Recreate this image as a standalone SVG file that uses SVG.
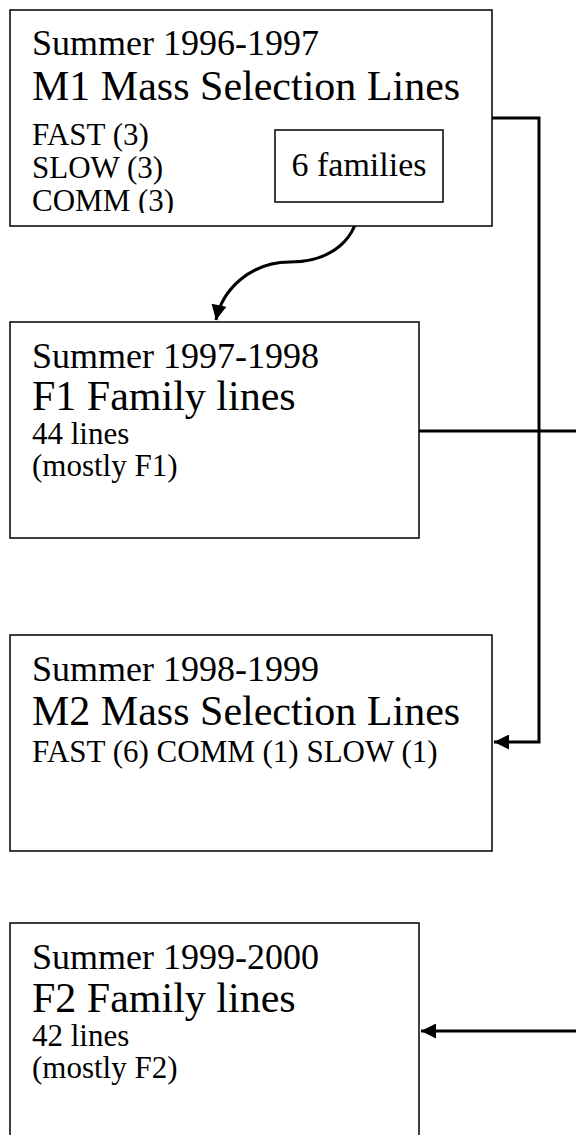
<svg xmlns="http://www.w3.org/2000/svg" width="576" height="1135" viewBox="0 0 576 1135">
<style>
.box{fill:#fff;stroke:#000;stroke-width:1.5}
.t{font-family:"Liberation Serif","Times New Roman",serif;fill:#000}
.s1{font-size:36px}
.s2{font-size:42px}
.s3{font-size:31px}
.s4{font-size:34px}
.c{fill:none;stroke:#000;stroke-width:3}
</style>
<defs>
<marker id="ah" viewBox="0 0 10 10" refX="10" refY="5" markerWidth="5.5" markerHeight="5" markerUnits="strokeWidth" orient="auto">
<path d="M0,0 L10,5 L0,10 z" fill="#000"/>
</marker>
<clipPath id="clip1"><rect x="10" y="10" width="482" height="203"/></clipPath>
</defs>
<rect width="576" height="1135" fill="#fff"/>
<g id="connectors">
<path class="c" d="M492,118 H539 V742 H494" marker-end="url(#ah)"/>
<path class="c" d="M419,431 H576"/>
<path class="c" d="M576,1031 H421" marker-end="url(#ah)"/>
<path class="c" d="M359,202 C359,240 330,262 290,262 C250,262 222,290 216,320" marker-end="url(#ah)"/>
</g>
<g id="node1">
<rect class="box" x="10" y="10" width="482" height="216"/>
<g clip-path="url(#clip1)">
<text class="t s1" x="32" y="55">Summer 1996-1997</text>
<text class="t s2" x="32" y="100">M1 Mass Selection Lines</text>
<text class="t s3" x="32" y="145">FAST (3)</text>
<text class="t s3" x="32" y="178">SLOW (3)</text>
<text class="t s3" x="32" y="211">COMM (3)</text>
</g>
</g>
<g id="node1b">
<rect class="box" x="275" y="130" width="168" height="72"/>
<text class="t s4" x="359" y="176" text-anchor="middle">6 families</text>
</g>
<g id="node2">
<rect class="box" x="10" y="322" width="409" height="216"/>
<text class="t s1" x="32" y="368">Summer 1997-1998</text>
<text class="t s2" x="32" y="410">F1 Family lines</text>
<text class="t s3" x="32" y="444">44 lines</text>
<text class="t s3" x="32" y="476">(mostly F1)</text>
</g>
<g id="node3">
<rect class="box" x="10" y="635" width="482" height="216"/>
<text class="t s1" x="32" y="681">Summer 1998-1999</text>
<text class="t s2" x="32" y="725">M2 Mass Selection Lines</text>
<text class="t s3" x="32" y="762">FAST (6) COMM (1) SLOW (1)</text>
</g>
<g id="node4">
<rect class="box" x="10" y="923" width="409" height="230"/>
<text class="t s1" x="32" y="969">Summer 1999-2000</text>
<text class="t s2" x="32" y="1012">F2 Family lines</text>
<text class="t s3" x="32" y="1046">42 lines</text>
<text class="t s3" x="32" y="1078">(mostly F2)</text>
</g>
</svg>
